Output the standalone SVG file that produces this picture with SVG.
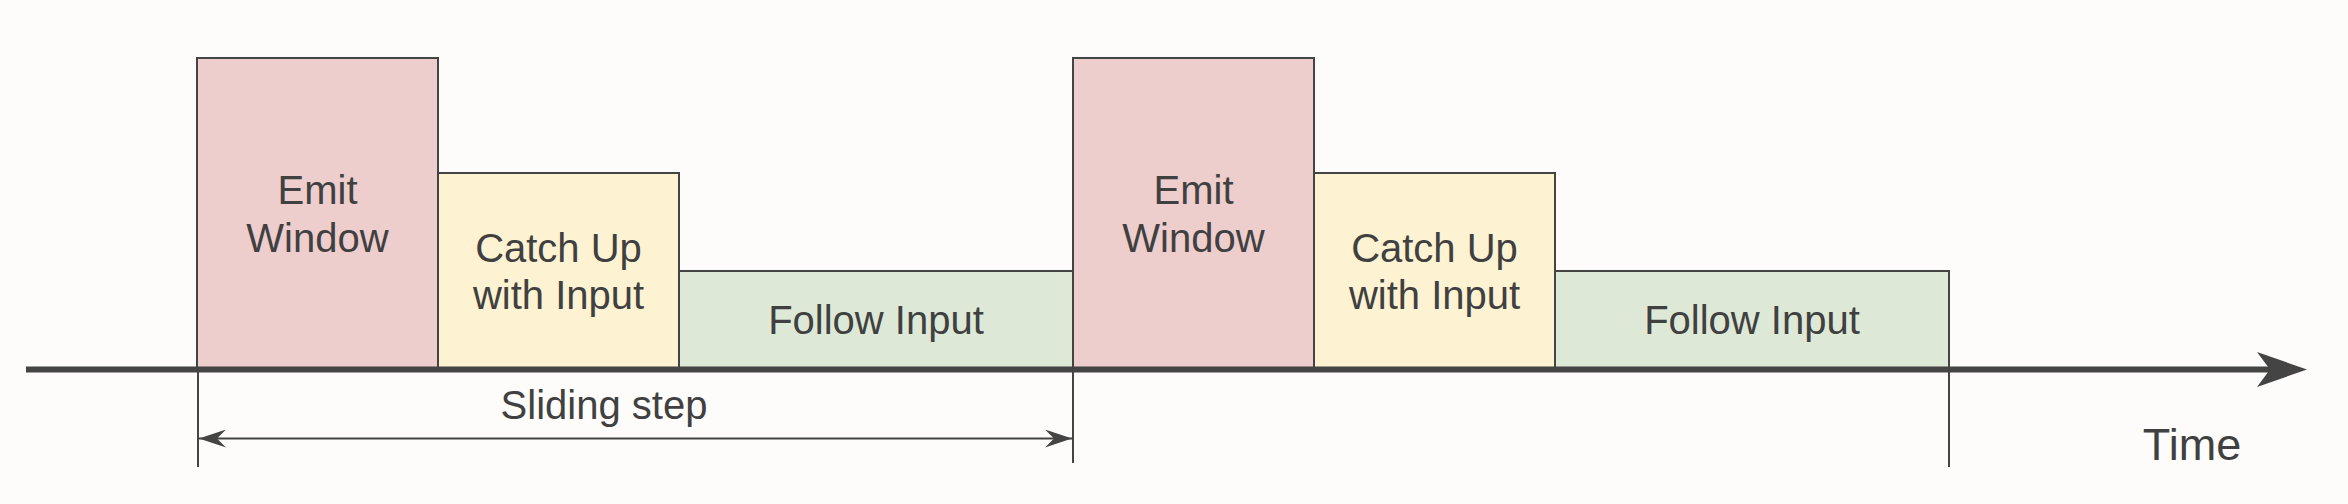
<svg xmlns="http://www.w3.org/2000/svg" width="2348" height="504" viewBox="0 0 2348 504">
<style>
.box{stroke:#444444;stroke-width:2}
.emit{fill:#eecdcd}
.catch{fill:#fdf2d1}
.follow{fill:#dde9d6}
.lbl{font-family:"Liberation Sans",Arial,sans-serif;font-size:40px;fill:#404040;text-anchor:middle}
.tick{stroke:#444444;stroke-width:2;fill:none}
</style>
<defs>
<marker id="ah" viewBox="0 0 27 18" refX="27" refY="9" markerWidth="27" markerHeight="18" markerUnits="userSpaceOnUse" orient="auto-start-reverse">
<path d="M0,0 L27,9 L0,18 L9,9 Z" fill="#444444"/>
</marker>
</defs>
<rect width="2348" height="504" fill="#fdfcfa"/>
<g id="emit1">
<rect class="box emit" x="197" y="58" width="241" height="311"/>
<text class="lbl" x="317.5" y="204">Emit</text>
<text class="lbl" x="317.5" y="252">Window</text>
</g>
<g id="catch1">
<rect class="box catch" x="438" y="173" width="241" height="196"/>
<text class="lbl" x="558.5" y="262">Catch Up</text>
<text class="lbl" x="558.5" y="309">with Input</text>
</g>
<g id="follow1">
<rect class="box follow" x="679" y="271" width="394" height="98"/>
<text class="lbl" x="876" y="334">Follow Input</text>
</g>
<g id="emit2">
<rect class="box emit" x="1073" y="58" width="241" height="311"/>
<text class="lbl" x="1193.5" y="204">Emit</text>
<text class="lbl" x="1193.5" y="252">Window</text>
</g>
<g id="catch2">
<rect class="box catch" x="1314" y="173" width="241" height="196"/>
<text class="lbl" x="1434.5" y="262">Catch Up</text>
<text class="lbl" x="1434.5" y="309">with Input</text>
</g>
<g id="follow2">
<rect class="box follow" x="1555" y="271" width="394" height="98"/>
<text class="lbl" x="1752" y="334">Follow Input</text>
</g>
<g id="connectors">
<line class="tick" x1="198" y1="369" x2="198" y2="467"/>
<line class="tick" x1="1073" y1="369" x2="1073" y2="463"/>
<line class="tick" x1="1949" y1="369" x2="1949" y2="467"/>
<line x1="26" y1="369.5" x2="2270" y2="369.5" stroke="#444444" stroke-width="6"/>
<path d="M2307,369.5 L2257,352 L2270,369.5 L2257,387 Z" fill="#444444"/>
<line x1="199" y1="438.5" x2="1072" y2="438.5" stroke="#444444" stroke-width="2" marker-start="url(#ah)" marker-end="url(#ah)"/>
</g>
<g id="labels">
<text class="lbl" x="604" y="419">Sliding step</text>
<text class="lbl" x="2192" y="460" style="font-size:45px">Time</text>
</g>
</svg>
